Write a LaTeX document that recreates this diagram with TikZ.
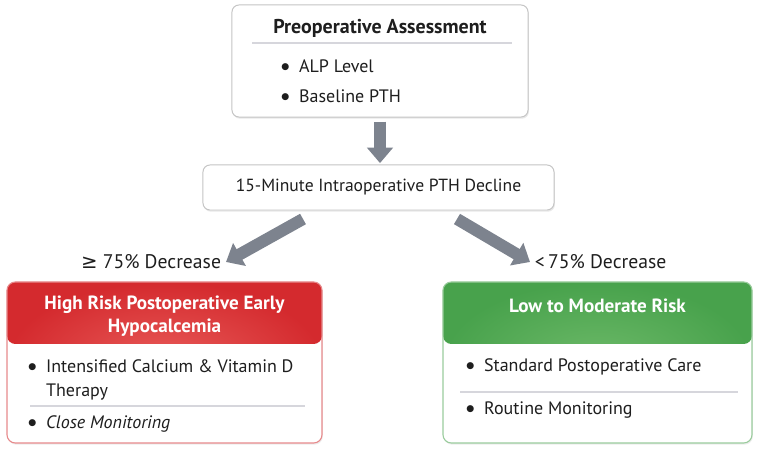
\documentclass[tikz,border=0pt]{standalone}
\usepackage{fontspec}
\setmainfont{PT Sans}
\newfontfamily\symfont{DejaVu Sans}
\usetikzlibrary{arrows.meta,positioning,shadows}
\definecolor{ink}{HTML}{1E1E1E}
\definecolor{framegray}{HTML}{C4C4C4}
\definecolor{rulegray}{HTML}{D6D6DC}
\definecolor{flowgray}{HTML}{7D838E}
\definecolor{riskred}{HTML}{D42A2E}
\definecolor{riskredlight}{HTML}{E85A58}
\definecolor{riskgreen}{HTML}{48A24C}
\definecolor{riskgreenlight}{HTML}{6CB968}
\newcommand\itemdot{\raisebox{0.35ex}{\symfont\fontsize{6.5}{6.5}\selectfont●}\hspace{0.55em}}
\tikzset{
  panel/.style={draw=framegray,fill=white,rounded corners=5pt,line width=0.7pt,
    drop shadow={opacity=0.18,shadow xshift=0.6pt,shadow yshift=-1.2pt}},
  riskbox/.style 2 args={draw=#1!55,fill=white,rounded corners=6pt,line width=0.8pt,
    drop shadow={opacity=0.15,shadow xshift=0.6pt,shadow yshift=-1.2pt},
    path picture={\shade[inner color=#2,outer color=#1]
      (path picture bounding box.north west) rectangle
      ([yshift=-1.55cm]path picture bounding box.north east);}},
  title/.style={font=\bfseries\fontsize{14.2}{17}\selectfont,text=ink,inner sep=0pt},
  head/.style={font=\bfseries\fontsize{13.6}{16.5}\selectfont,text=white,align=center,inner sep=0pt},
  item/.style={anchor=west,inner sep=0pt,align=left,text=ink,font=\fontsize{12.8}{17}\selectfont},
  branch/.style={font=\fontsize{14}{16}\selectfont,text=ink},
  rule/.style={draw=rulegray,line width=0.8pt},
  flow/.style={draw=flowgray,line width=8.5pt,-{Triangle[width=18pt,length=11pt]}}
}
\begin{document}
\begin{tikzpicture}[x=0.025cm,y=-0.025cm,>=Stealth]
  \useasboundingbox (0,0) rectangle (758,451);
  \node[panel,minimum width=7.4cm,minimum height=2.8cm] (assess) at (380,61) {};
  \node[title] (assesstitle) at (380,28) {Preoperative Assessment};
  \draw[rule] (252,43) -- (512,43);
  \node[item] (alp) at (281,66) {\itemdot ALP Level};
  \node[item] (baseline) at (281,96) {\itemdot Baseline PTH};

  \node[panel,minimum width=8.775cm,minimum height=1.125cm,
    font=\fontsize{12.5}{15}\selectfont,text=ink] (decline) at (378.5,187.5)
    {15-Minute Intraoperative PTH Decline};

  \node[branch,anchor=east] (gedec) at (226,262) {{\symfont ≥} 75\% Decrease};
  \node[branch,anchor=west] (ltdec) at (530,262) {<\,75\% Decrease};

  \node[riskbox={riskred}{riskredlight},minimum width=7.875cm,minimum height=4.025cm]
    (highrisk) at (164.5,362.5) {};
  \node[head] (hightitle) at (164.5,316) {High Risk Postoperative Early\\Hypocalcemia};
  \node[item] (calcium) at (28,380) {\itemdot Intensified Calcium \& Vitamin D\\\hphantom{\itemdot}Therapy};
  \draw[rule] (30,406) -- (305,406);
  \node[item] (closemon) at (28,424) {\itemdot\textit{Close Monitoring}};

  \node[riskbox={riskgreen}{riskgreenlight},minimum width=7.725cm,minimum height=4.025cm]
    (lowrisk) at (597.5,362.5) {};
  \node[head] (lowtitle) at (597.5,306) {Low to Moderate Risk};
  \node[item] (standard) at (466,367) {\itemdot Standard Postoperative Care};
  \draw[rule] (460,392) -- (738,392);
  \node[item] (routine) at (466,410) {\itemdot Routine Monitoring};

  \coordinate (lstart) at (303,219);
  \coordinate (rstart) at (457,219);
  \draw[flow,shorten <=3pt,shorten >=1pt] (assess.south) -- (assess.south |- decline.north);
  \draw[flow] (lstart) -- (gedec.east);
  \draw[flow] (rstart) -- (ltdec.west);
\end{tikzpicture}
\end{document}
